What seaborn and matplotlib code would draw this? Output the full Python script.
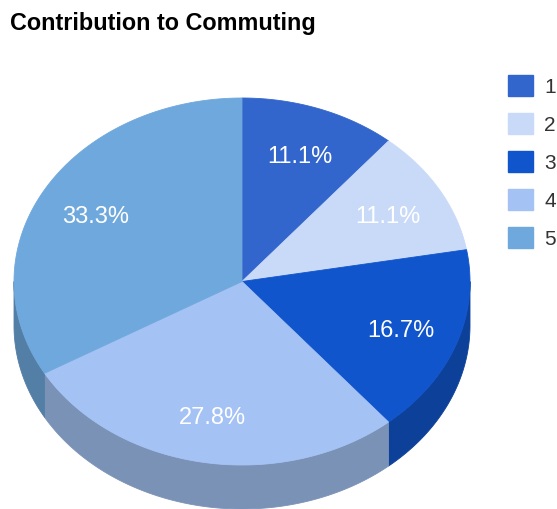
import numpy as np
import matplotlib
matplotlib.use("Agg")
import matplotlib.pyplot as plt
from matplotlib.patches import Polygon, Patch
import seaborn as sns

# Data
categories = ["1", "2", "3", "4", "5"]
values = [2, 2, 3, 5, 6]
top_colors = ["#3366CC", "#C9DAF8", "#1155CC", "#A4C2F4", "#6FA8DC"]
title = "Contribution to Commuting"

sns.set_theme(style="white")
plt.rcParams["font.family"] = ["Liberation Sans", "DejaVu Sans"]

W, H, DPI = 557, 509, 100
fig = plt.figure(figsize=(W / DPI, H / DPI), dpi=DPI)
ax = fig.add_axes([0, 0, 1, 1])
ax.set_xlim(0, W)
ax.set_ylim(H, 0)
ax.axis("off")

# Tilted pie geometry (pixel units, y pointing down)
cx, cy = 242.0, 281.5
a, b = 228.0, 183.5
depth = 44.0

palette = sns.color_palette(top_colors)
side_palette = [tuple(c * 0.75 for c in col) for col in palette]

total = float(sum(values))
bounds = np.concatenate([[0.0], np.cumsum(values) / total * 2 * np.pi])


def arc(t0, t1, n=120, dy=0.0):
    t = np.linspace(t0, t1, n)
    return np.column_stack([cx + a * np.sin(t), cy - b * np.cos(t) + dy])


# Side walls of the front half (angles between 90 and 270 degrees)
front0, front1 = np.pi / 2, 3 * np.pi / 2
for i in range(len(values)):
    t0, t1 = max(bounds[i], front0), min(bounds[i + 1], front1)
    if t1 <= t0:
        continue
    upper = arc(t0, t1)
    lower = arc(t0, t1, dy=depth)[::-1]
    ax.add_patch(Polygon(np.vstack([upper, lower]), closed=True,
                         facecolor=side_palette[i], edgecolor=side_palette[i],
                         linewidth=0.6))

# Top faces
for i in range(len(values)):
    pts = np.vstack([[cx, cy], arc(bounds[i], bounds[i + 1])])
    ax.add_patch(Polygon(pts, closed=True, facecolor=palette[i],
                         edgecolor=palette[i], linewidth=0.6))

# Percentage labels
for i, v in enumerate(values):
    mid = (bounds[i] + bounds[i + 1]) / 2
    r = 0.74
    x = cx + r * a * np.sin(mid)
    y = cy - r * b * np.cos(mid) + 3
    ax.text(x, y, f"{v / total * 100:.1f}%", color="white", fontsize=17,
            ha="center", va="center")

# Title
ax.text(10, 23, title, fontsize=16.8, fontweight="bold", color="black",
        ha="left", va="center")

# Legend
handles = [Patch(facecolor=c, edgecolor=c) for c in palette]
leg = ax.legend(handles, categories, loc="upper left",
                bbox_to_anchor=(508 / W, 1 - 75 / H), frameon=False,
                fontsize=15, handlelength=1.2, handleheight=1.2,
                handletextpad=0.55, labelspacing=0.78, borderaxespad=0,
                borderpad=0)
for t in leg.get_texts():
    t.set_color("#333333")

fig.savefig("out.png", dpi=DPI)
